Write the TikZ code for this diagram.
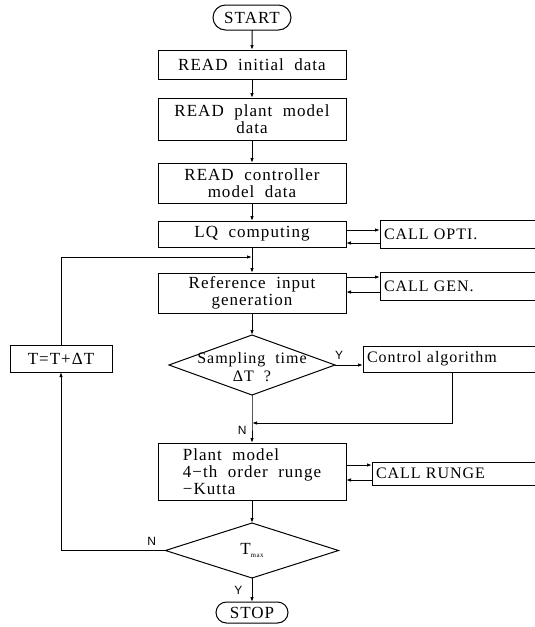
\documentclass[tikz,border=0pt]{standalone}
\usepackage{fontspec}
\setmainfont[LetterSpace=6,WordSpace=2]{Liberation Serif}
\setsansfont{Liberation Sans}
\usetikzlibrary{arrows.meta, positioning, shapes.geometric, shapes.misc}

\begin{document}
\begin{tikzpicture}[
  x=1pt, y=-1pt,
  box/.style={
    draw, line width=1pt, outer sep=0pt,
    minimum width=188pt, inner sep=1pt,
    align=center, font=\fontsize{17}{17}\selectfont
  },
  term/.style={
    draw, rounded rectangle, line width=1pt, outer sep=0pt,
    inner sep=1pt, font=\fontsize{17}{17}\selectfont
  },
  side/.style={
    draw, line width=1pt, anchor=west, outer sep=0pt,
    inner sep=4pt, align=left,
    font=\fontsize{16}{16}\selectfont
  },
  dec/.style={
    draw, diamond, line width=1pt, inner sep=0pt, outer sep=0pt
  },
  lab/.style={font=\sffamily\fontsize{12}{12}\selectfont, inner sep=1pt},
  arr/.style={-{Latex[length=5pt, width=3.5pt]}, line width=1pt}
]
  \useasboundingbox (0,0) rectangle (535,627);
  \clip (0,0) rectangle (535,627);

  % main column
  \node[term, minimum width=80pt, minimum height=25pt] (start) at (252,17.5) {START};
  \node[box, below=20pt of start, minimum height=29pt] (init) {READ initial data};
  \node[box, below=19pt of init, minimum height=42pt] (plant) {READ plant model\\data};
  \node[box, below=23pt of plant, minimum height=40pt] (ctrl) {READ controller\\model data};
  \node[box, below=18pt of ctrl, minimum height=26pt] (lq) {LQ computing};
  \node[box, below=26pt of lq, minimum height=40pt] (ref) {Reference input\\generation};
  \node[dec, below=22pt of ref, minimum width=166pt, minimum height=60pt,
        label={[align=center, font=\fontsize{16}{18}\selectfont, yshift=-2pt]center:Sampling time\\ΔT ?}] (samp) {};
  \node[box, below=48pt of samp, minimum height=57pt, align=left] (plantm)
    {Plant model\\4−th order runge\\−Kutta};
  \node[dec, below=23pt of plantm, minimum width=173pt, minimum height=55pt,
        label={[font=\fontsize{17}{17}\selectfont]center:T\raisebox{-3pt}{\fontsize{7}{7}\selectfont max}}] (tmax) {};
  \node[term, below=24pt of tmax, minimum width=74pt, minimum height=21pt] (stop) {STOP};

  % subroutines
  \node[side, text width=155pt, minimum height=28pt] (opti) at (380,234) {CALL OPTI.};
  \node[side, text width=155pt, minimum height=28pt] (gen) at (380,286) {CALL GEN.};
  \node[side, text width=170pt, minimum height=26pt] (ctrlalg) at (363,359) {Control algorithm};
  \node[side, text width=160pt, minimum height=23pt] (runge) at (372,473.5) {CALL RUNGE};

  % loop
  \node[box, minimum width=102pt, minimum height=27pt] (tdt) at (61,358.5) {T=T+ΔT};

  \coordinate (fb) at (lq.south |- 0,257);
  \coordinate (join) at (samp.south |- 0,423);

  \draw[arr] (start) -- (init);
  \draw[arr] (init) -- (plant);
  \draw[arr] (plant) -- (ctrl);
  \draw[arr] (ctrl) -- (lq);
  \draw[arr] (lq) -- (ref);
  \draw[arr] (ref) -- (samp);
  \draw[arr] (samp.south) -- (join) node[lab, below left=2pt and 4pt] {N} -- (plantm.north);
  \draw[arr] (plantm) -- (tmax);
  \draw[arr] (tmax.south) -- node[lab, left=8pt] {Y} (stop.north);

  \draw[arr] ([yshift=4pt]lq.east) coordinate (o1) -- (o1 -| opti.west);
  \draw[arr] ([yshift=-9pt]opti.west) coordinate (o2) -- (o2 -| lq.east);
  \draw[arr] ([yshift=9pt]gen.west) coordinate (g1) ++(0,0) (g1 -| ref.east) -- (g1);
  \draw[arr] ([yshift=-6pt]gen.west) coordinate (g2) -- (g2 -| ref.east);
  \draw[arr] ([yshift=6.5pt]plantm.east) coordinate (r1) -- (r1 -| runge.west);
  \draw[arr] ([yshift=-6.5pt]runge.west) coordinate (r2) -- (r2 -| plantm.east);

  \draw[arr] (samp.east) -- node[lab, pos=0.15, above=4pt] {Y} (samp.east -| ctrlalg.west);
  \draw[arr] (ctrlalg.south) |- (join);

  \draw[arr] (tmax.west) node[lab, above left=4pt and 8pt] {N} -| (tdt.south);
  \draw[arr] (tdt.north) |- (fb);

\end{tikzpicture}
\end{document}
